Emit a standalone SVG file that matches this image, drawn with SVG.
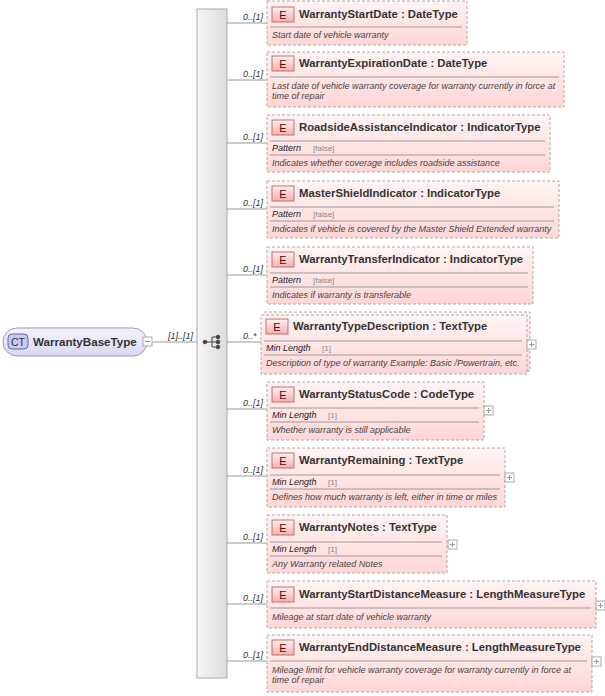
<svg xmlns="http://www.w3.org/2000/svg" width="605" height="696" viewBox="0 0 605 696">
<defs>
<linearGradient id="eg" x1="0" y1="0" x2="0" y2="1"><stop offset="0" stop-color="#fff4f4"/><stop offset="1" stop-color="#ffd6d6"/></linearGradient>
<linearGradient id="bg" x1="0" y1="0" x2="0" y2="1"><stop offset="0" stop-color="#fff0f0"/><stop offset="1" stop-color="#f4b0b0"/></linearGradient>
<linearGradient id="sq" x1="0" y1="0" x2="1" y2="0"><stop offset="0" stop-color="#f6f6f6"/><stop offset="1" stop-color="#dcdcdc"/></linearGradient>
<linearGradient id="ct" x1="0" y1="0" x2="0" y2="1"><stop offset="0" stop-color="#f4f4ff"/><stop offset="1" stop-color="#d8d8f0"/></linearGradient>
</defs>
<style>
text{font-family:"Liberation Sans",Arial,sans-serif}
.box{fill:url(#eg);stroke:#aaa;stroke-dasharray:3,2}
.bd{fill:url(#bg);stroke:#c07070;stroke-width:1}
.e{font-size:11px;fill:#600}
.n{font-size:11.3px;font-weight:bold;fill:#333}
.sep{stroke:#999}
.d{font-size:9px;font-style:italic;fill:#444}
.p{font-size:9px;font-style:italic;fill:#222}
.f{font-size:8px;fill:#888}
.m{font-size:9px;font-style:italic;fill:#333}
.c line{stroke:#999}
.pl{fill:#fff;stroke:#aaa}
</style>
<g class="c">
<line x1="152" y1="342" x2="197" y2="342"/>
<line x1="227" y1="23" x2="267" y2="23"/>
<line x1="227" y1="80" x2="267" y2="80"/>
<line x1="227" y1="143" x2="267" y2="143"/>
<line x1="227" y1="209" x2="267" y2="209"/>
<line x1="227" y1="275" x2="267" y2="275"/>
<line x1="227" y1="342" x2="261" y2="342"/>
<line x1="227" y1="409" x2="267" y2="409"/>
<line x1="227" y1="476" x2="267" y2="476"/>
<line x1="227" y1="543" x2="267" y2="543"/>
<line x1="227" y1="604" x2="267" y2="604"/>
<line x1="227" y1="661" x2="267" y2="661"/>
<text class="m" x="168" y="339">[1]..[1]</text>
<text class="m" x="243" y="20">0..[1]</text>
<text class="m" x="243" y="77">0..[1]</text>
<text class="m" x="243" y="140">0..[1]</text>
<text class="m" x="243" y="206">0..[1]</text>
<text class="m" x="243" y="272">0..[1]</text>
<text class="m" x="243" y="339">0..*</text>
<text class="m" x="243" y="406">0..[1]</text>
<text class="m" x="243" y="473">0..[1]</text>
<text class="m" x="243" y="540">0..[1]</text>
<text class="m" x="243" y="601">0..[1]</text>
<text class="m" x="243" y="658">0..[1]</text>
</g>
<g id="ct-node">
<rect x="3" y="328" width="144" height="28" rx="14" fill="url(#ct)" stroke="#9999bb"/>
<rect x="8" y="334" width="20" height="15" rx="4" fill="#c8c8f4" stroke="#6666aa"/>
<text x="18" y="346" text-anchor="middle" font-size="10.5" fill="#333">CT</text>
<text x="33" y="346" font-size="11.6" font-weight="bold" fill="#333">WarrantyBaseType</text>
<rect x="143" y="337" width="9" height="9" class="pl"/><line x1="145" y1="341.5" x2="150" y2="341.5" stroke="#888"/>
</g>
<g id="sequence">
<rect x="197" y="9" width="30" height="669" fill="url(#sq)" stroke="#aaa"/>
<g fill="#444" stroke="#444">
<line x1="204" y1="342" x2="212" y2="342"/><line x1="212" y1="337" x2="212" y2="347"/>
<line x1="212" y1="337" x2="218" y2="337"/><line x1="212" y1="342" x2="218" y2="342"/><line x1="212" y1="347" x2="218" y2="347"/>
<circle cx="205" cy="342" r="1.8"/><circle cx="218" cy="337" r="1.8"/><circle cx="218" cy="342" r="1.8"/><circle cx="218" cy="347" r="1.8"/>
</g>
</g>
<g id="e1"><rect class="box" x="267" y="1" width="200" height="44"/><rect class="bd" x="272" y="7" width="22" height="15"/><text class="e" x="283" y="19" text-anchor="middle">E</text><text class="n" x="299" y="18">WarrantyStartDate : DateType</text><line class="sep" x1="270" y1="27" x2="462" y2="27"/><text class="d" x="272" y="38">Start date of vehicle warranty</text></g>
<g id="e2"><rect class="box" x="267" y="52" width="297" height="55"/><rect class="bd" x="272" y="56" width="22" height="15"/><text class="e" x="283" y="68" text-anchor="middle">E</text><text class="n" x="299" y="67">WarrantyExpirationDate : DateType</text><line class="sep" x1="270" y1="77" x2="559" y2="77"/><text class="d" x="272" y="89">Last date of vehicle warranty coverage for warranty currently in force at</text><text class="d" x="272" y="99">time of repair</text></g>
<g id="e3"><rect class="box" x="267" y="115" width="283" height="57"/><rect class="bd" x="272" y="120" width="22" height="15"/><text class="e" x="283" y="132" text-anchor="middle">E</text><text class="n" x="299" y="131">RoadsideAssistanceIndicator : IndicatorType</text><line class="sep" x1="270" y1="141" x2="545" y2="141"/><text class="p" x="272" y="151">Pattern</text><text class="f" x="313" y="151">[false]</text><line class="sep" x1="270" y1="155" x2="545" y2="155"/><text class="d" x="272" y="166">Indicates whether coverage includes roadside assistance</text></g>
<g id="e4"><rect class="box" x="267" y="181" width="292" height="57"/><rect class="bd" x="272" y="186" width="22" height="15"/><text class="e" x="283" y="198" text-anchor="middle">E</text><text class="n" x="299" y="197">MasterShieldIndicator : IndicatorType</text><line class="sep" x1="270" y1="207" x2="554" y2="207"/><text class="p" x="272" y="217">Pattern</text><text class="f" x="313" y="217">[false]</text><line class="sep" x1="270" y1="221" x2="554" y2="221"/><text class="d" x="272" y="232">Indicates if vehicle is covered by the Master Shield Extended warranty</text></g>
<g id="e5"><rect class="box" x="267" y="247" width="266" height="57"/><rect class="bd" x="272" y="252" width="22" height="15"/><text class="e" x="283" y="264" text-anchor="middle">E</text><text class="n" x="299" y="263">WarrantyTransferIndicator : IndicatorType</text><line class="sep" x1="270" y1="273" x2="528" y2="273"/><text class="p" x="272" y="283">Pattern</text><text class="f" x="313" y="283">[false]</text><line class="sep" x1="270" y1="287" x2="528" y2="287"/><text class="d" x="272" y="298">Indicates if warranty is transferable</text></g>
<g id="e6"><rect class="box" x="264" y="312" width="266" height="59"/><rect class="box" x="261" y="315" width="266" height="59"/><rect class="bd" x="266" y="319" width="22" height="15"/><text class="e" x="277" y="331" text-anchor="middle">E</text><text class="n" x="293" y="330">WarrantyTypeDescription : TextType</text><line class="sep" x1="264" y1="341" x2="522" y2="341"/><text class="p" x="266" y="351">Min Length</text><text class="f" x="322" y="351">[1]</text><line class="sep" x1="264" y1="355" x2="522" y2="355"/><text class="d" x="266" y="366">Description of type of warranty Example: Basic /Powertrain, etc.</text><rect x="527" y="340" width="9" height="9" class="pl"/><path d="M529 344.5h5M531.5 342v5" stroke="#999"/></g>
<g id="e7"><rect class="box" x="267" y="382" width="217" height="58"/><rect class="bd" x="272" y="387" width="22" height="15"/><text class="e" x="283" y="399" text-anchor="middle">E</text><text class="n" x="299" y="398">WarrantyStatusCode : CodeType</text><line class="sep" x1="270" y1="408" x2="479" y2="408"/><text class="p" x="272" y="418">Min Length</text><text class="f" x="328" y="418">[1]</text><line class="sep" x1="270" y1="422" x2="479" y2="422"/><text class="d" x="272" y="433">Whether warranty is still applicable</text><rect x="484" y="406" width="9" height="9" class="pl"/><path d="M486 410.5h5M488.5 408v5" stroke="#999"/></g>
<g id="e8"><rect class="box" x="267" y="448" width="238" height="59"/><rect class="bd" x="272" y="453" width="22" height="15"/><text class="e" x="283" y="465" text-anchor="middle">E</text><text class="n" x="299" y="464">WarrantyRemaining : TextType</text><line class="sep" x1="270" y1="475" x2="500" y2="475"/><text class="p" x="272" y="485">Min Length</text><text class="f" x="328" y="485">[1]</text><line class="sep" x1="270" y1="489" x2="500" y2="489"/><text class="d" x="272" y="500">Defines how much warranty is left, either in time or miles</text><rect x="505" y="473" width="9" height="9" class="pl"/><path d="M507 477.5h5M509.5 475v5" stroke="#999"/></g>
<g id="e9"><rect class="box" x="267" y="515" width="180" height="58"/><rect class="bd" x="272" y="520" width="22" height="15"/><text class="e" x="283" y="532" text-anchor="middle">E</text><text class="n" x="299" y="531">WarrantyNotes : TextType</text><line class="sep" x1="270" y1="542" x2="442" y2="542"/><text class="p" x="272" y="552">Min Length</text><text class="f" x="328" y="552">[1]</text><line class="sep" x1="270" y1="556" x2="442" y2="556"/><text class="d" x="272" y="567">Any Warranty related Notes</text><rect x="448" y="540" width="9" height="9" class="pl"/><path d="M450 544.5h5M452.5 542v5" stroke="#999"/></g>
<g id="e10"><rect class="box" x="267" y="581" width="329" height="47"/><rect class="bd" x="272" y="587" width="22" height="15"/><text class="e" x="283" y="599" text-anchor="middle">E</text><text class="n" x="299" y="598">WarrantyStartDistanceMeasure : LengthMeasureType</text><line class="sep" x1="270" y1="608" x2="591" y2="608"/><text class="d" x="272" y="620">Mileage at start date of vehicle warranty</text><rect x="596" y="601" width="9" height="9" class="pl"/><path d="M598 605.5h5M600.5 603v5" stroke="#999"/></g>
<g id="e11"><rect class="box" x="267" y="635" width="325" height="57"/><rect class="bd" x="272" y="640" width="22" height="15"/><text class="e" x="283" y="652" text-anchor="middle">E</text><text class="n" x="299" y="651">WarrantyEndDistanceMeasure : LengthMeasureType</text><line class="sep" x1="270" y1="661" x2="587" y2="661"/><text class="d" x="272" y="673">Mileage limit for vehicle warranty coverage for warranty currently in force at</text><text class="d" x="272" y="683">time of repair</text><rect x="592" y="657" width="9" height="9" class="pl"/><path d="M594 661.5h5M596.5 659v5" stroke="#999"/></g>
</svg>
